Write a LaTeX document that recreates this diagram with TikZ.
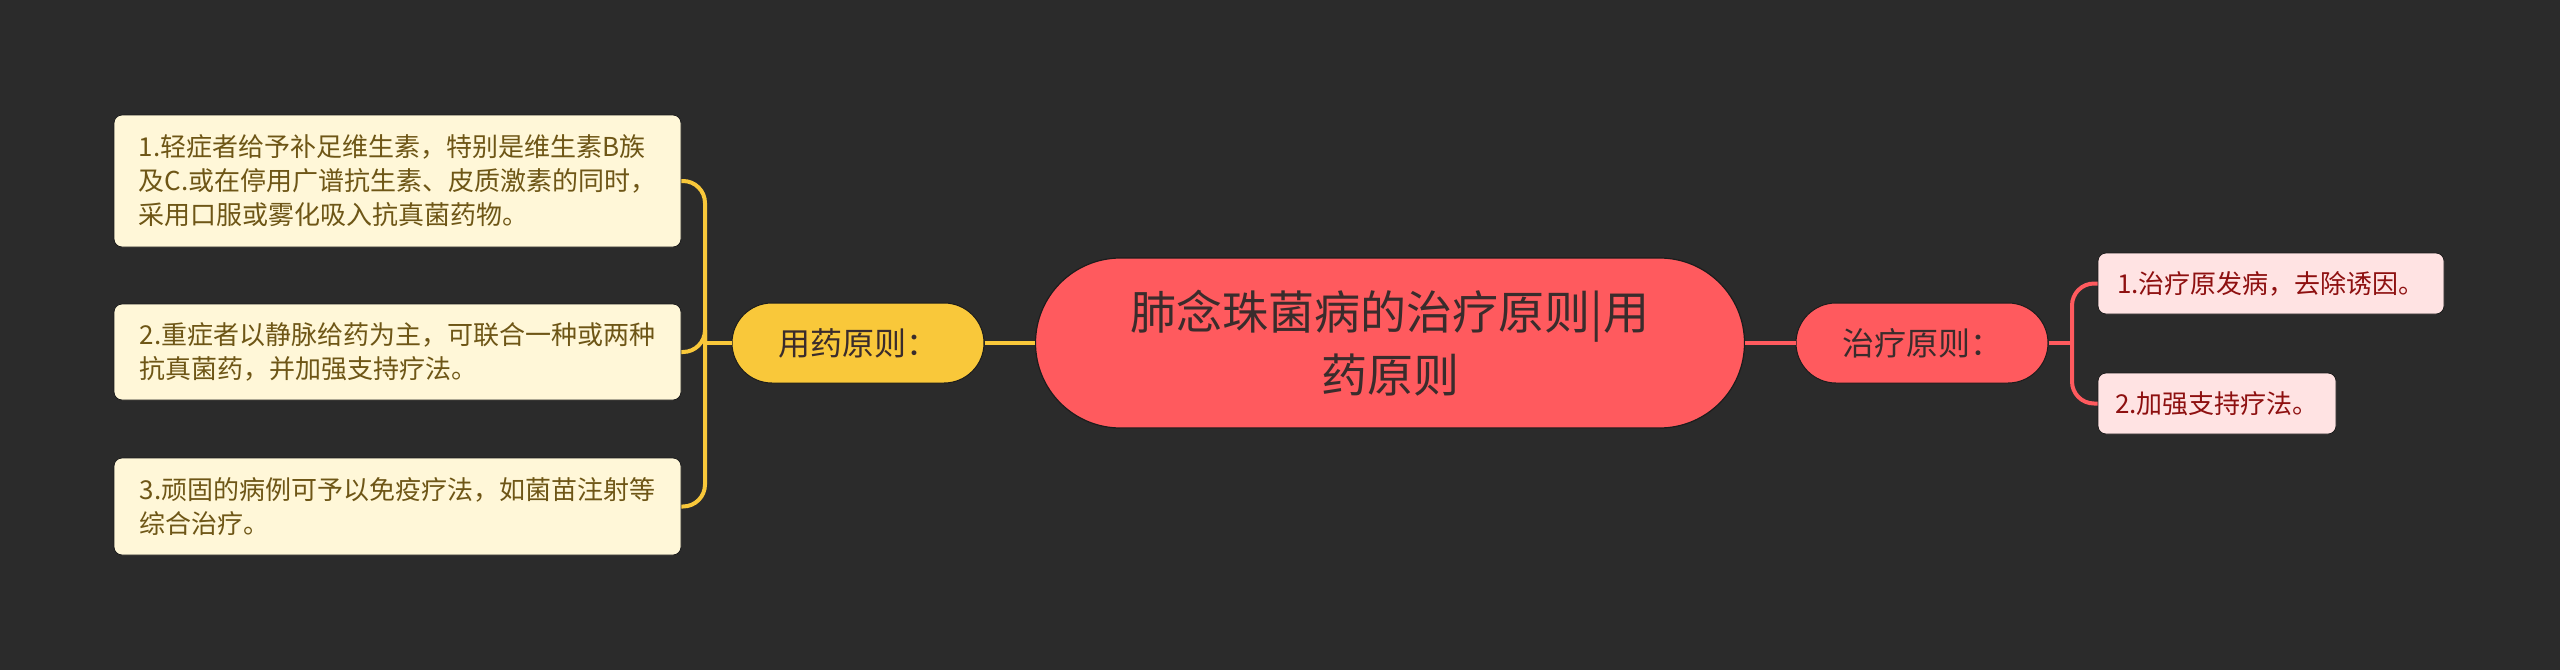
\documentclass[tikz,border=0pt]{standalone}
\usepackage{fontspec}
\newfontfamily\cjk{Noto Sans CJK SC}
\usetikzlibrary{calc}

\definecolor{bgdark}{HTML}{2B2B2B}
\definecolor{mapyellow}{HTML}{F9C83A}
\definecolor{mapcream}{HTML}{FFF7D8}
\definecolor{mapbrown}{HTML}{6E5616}
\definecolor{mapred}{HTML}{FF5A5E}
\definecolor{mappink}{HTML}{FFE3E3}
\definecolor{mapdarkred}{HTML}{8E1010}
\definecolor{maptitle}{HTML}{3A2C2C}
\definecolor{mapedge}{HTML}{1C1C1C}

\begin{document}
\begin{tikzpicture}[x=1pt, y=-1pt,
	rootnode/.style={draw=mapedge, line width=1.2pt, fill=mapred, text=maptitle, rounded corners=85pt, minimum width=709pt, minimum height=170pt, align=center, font=\cjk\fontsize{46}{63}\selectfont},
	pillnode/.style={draw=mapedge, line width=1pt, rounded corners=40pt, minimum width=252pt, minimum height=80pt, text=maptitle, font=\cjk\fontsize{32}{40}\selectfont},
	leafnode/.style={draw=mapedge, line width=0.8pt, rounded corners=8pt, align=left, inner xsep=16pt, font=\cjk\fontsize{26}{34}\selectfont},
	yellowline/.style={draw=mapyellow, line width=4pt},
	redline/.style={draw=mapred, line width=4pt}]

	% dark page behind the whole map
	\fill[bgdark] (0,0) rectangle (2560,670);

	\node[rootnode] (root) at (1390,343) {肺念珠菌病的治疗原则|用\\药原则};

	\node[pillnode, fill=mapyellow] (yongyao) at (858,343) {用药原则：};
	\node[pillnode, fill=mapred] (zhiliao) at (1922,343) {治疗原则：};

	% left leaves
	\node[leafnode, fill=mapcream, text=mapbrown, minimum width=567pt, minimum height=132pt] (L1) at (397.5,181) {1.轻症者给予补足维生素，特别是维生素B族\\及C.或在停用广谱抗生素、皮质激素的同时，\\采用口服或雾化吸入抗真菌药物。};
	\node[leafnode, fill=mapcream, text=mapbrown, minimum width=567pt, minimum height=96pt] (L2) at (397.5,352) {2.重症者以静脉给药为主，可联合一种或两种\\抗真菌药，并加强支持疗法。};
	\node[leafnode, fill=mapcream, text=mapbrown, minimum width=567pt, minimum height=97pt] (L3) at (397.5,506.5) {3.顽固的病例可予以免疫疗法，如菌苗注射等\\综合治疗。};

	% right leaves
	\node[leafnode, fill=mappink, text=mapdarkred, minimum width=346pt, minimum height=61pt] (R1) at (2271,283.5) {1.治疗原发病，去除诱因。};
	\node[leafnode, fill=mappink, text=mapdarkred, minimum width=238pt, minimum height=61pt] (R2) at (2217,403.5) {2.加强支持疗法。};

	% branches
	\draw[yellowline] (yongyao.east) -- (root.west);
	\draw[redline] (root.east) -- (zhiliao.west);

	\coordinate (lj) at (705,343);
	\draw[yellowline] (yongyao.west) -- (lj);
	\foreach \b in {L1,L2,L3}
		\draw[yellowline, rounded corners=22pt] (lj) |- (\b.east);

	\coordinate (rj) at (2072,343);
	\draw[redline] (zhiliao.east) -- (rj);
	\foreach \b in {R1,R2}
		\draw[redline, rounded corners=22pt] (rj) |- (\b.west);

\end{tikzpicture}
\end{document}
